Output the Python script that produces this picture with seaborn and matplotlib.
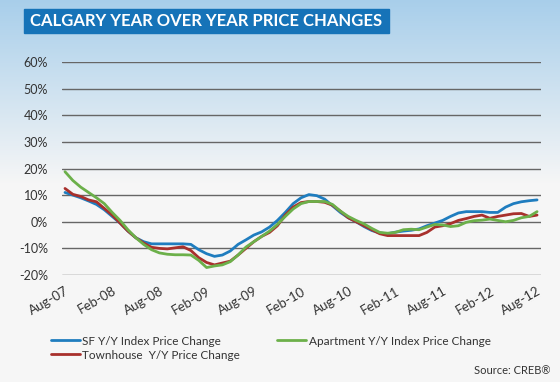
"""
plot.py
Calgary year over year price changes (CREB), Aug-07 to Aug-12.
"""

import numpy as np
import pandas as pd
import matplotlib.pyplot as plt
from matplotlib.patches import Rectangle
import seaborn as sns

sns.set_theme(style="white")
plt.rcParams["font.family"] = ["Lato", "DejaVu Sans"]

# ──────────────────────────────────────────────
# monthly Y/Y change in %, Aug-07 .. Aug-12 (61 months)
months = list(range(61))

sf_change = [
    11.0, 10.0, 9.0, 7.8, 6.5, 4.5, 2.0, -0.5, -3.5, -6.0,
    -7.5, -8.3, -8.3, -8.3, -8.3, -8.3, -8.5, -10.5, -12.0, -13.0,
    -12.5, -11.0, -8.5, -6.8, -5.0, -3.8, -2.0, 0.5, 3.5, 6.8,
    9.0, 10.2, 9.8, 8.5, 6.0, 3.5, 1.5, 0.0, -1.8, -3.3,
    -4.2, -4.5, -3.9, -3.5, -3.2, -2.7, -1.5, -0.5, 0.5, 2.0,
    3.3, 3.8, 3.8, 3.8, 3.5, 3.5, 5.5, 6.8, 7.5, 7.9,
    8.2,
]

apartment_change = [
    18.8, 15.5, 13.0, 11.0, 9.0, 6.8, 3.5, 0.5, -3.0, -6.0,
    -8.5, -10.5, -11.7, -12.2, -12.4, -12.4, -12.5, -14.5, -17.2, -16.6,
    -16.2, -15.0, -12.5, -9.5, -7.5, -5.5, -3.5, -1.0, 2.0, 4.8,
    6.8, 7.6, 7.6, 7.6, 6.5, 4.0, 2.0, 0.5, -0.8, -2.5,
    -4.0, -4.3, -4.0, -3.0, -2.8, -3.0, -2.0, -1.0, -1.2, -1.8,
    -1.5, -0.2, 0.4, 0.6, 1.0, 0.5, 0.0, 0.5, 1.5, 2.0,
    3.8,
]

townhouse_change = [
    12.5, 10.3, 9.5, 8.2, 7.5, 5.0, 2.5, -0.5, -3.5, -6.0,
    -8.0, -9.6, -10.0, -10.2, -9.8, -9.4, -10.8, -13.5, -15.3, -16.2,
    -15.5, -14.8, -12.5, -10.0, -7.5, -5.5, -4.0, -1.5, 2.5, 5.5,
    7.2, 7.6, 7.6, 7.3, 6.2, 4.0, 1.5, 0.0, -1.5, -3.0,
    -4.5, -5.2, -5.2, -5.2, -5.2, -5.2, -4.0, -2.0, -1.5, -0.7,
    0.5, 1.2, 2.0, 2.5, 1.3, 2.0, 2.5, 3.0, 3.1, 2.0,
    2.5,
]

series_names = [
    "SF Y/Y Index Price Change",
    "Townhouse  Y/Y Price Change",
    "Apartment Y/Y Index Price Change",
]

tick_labels = ["Aug-07", "Feb-08", "Aug-08", "Feb-09", "Aug-09", "Feb-10",
               "Aug-10", "Feb-11", "Aug-11", "Feb-12", "Aug-12"]
y_ticks = [-20, -10, 0, 10, 20, 30, 40, 50, 60]

palette = {
    series_names[0]: "#1f7dbf",
    series_names[1]: "#a8302c",
    series_names[2]: "#6cb04a",
}

# ──────────────────────────────────────────────
df = pd.concat([
    pd.DataFrame({"month": months, "change": sf_change, "series": series_names[0]}),
    pd.DataFrame({"month": months, "change": townhouse_change, "series": series_names[1]}),
    pd.DataFrame({"month": months, "change": apartment_change, "series": series_names[2]}),
])

fig = plt.figure(figsize=(5.6, 3.82), dpi=100)

# background gradient: light blue at top fading to off-white
bg = fig.add_axes([0, 0, 1, 1], zorder=0)
top = np.array([0.66, 0.81, 0.92])
bottom = np.array([0.965, 0.965, 0.965])
t = np.clip(np.linspace(0, 1, 382) / 0.48, 0, 1)[:, None]
grad = top * (1 - t) + bottom * t
bg.imshow(grad[:, None, :], aspect="auto", extent=[0, 1, 0, 1])
bg.set_axis_off()

# title bar
fig.add_artist(Rectangle((24 / 560, 1 - 33 / 382), 365 / 560, 24 / 382,
                         transform=fig.transFigure, color="#1673b8", zorder=2))
fig.text(30 / 560, 1 - 21 / 382, "CALGARY YEAR OVER YEAR PRICE CHANGES",
         color="white", fontsize=12, fontweight="bold", va="center", zorder=3)

ax = fig.add_axes([62 / 560, 1 - 275 / 382, 479 / 560, 213 / 382], zorder=1)
ax.patch.set_alpha(0)

sns.lineplot(data=df, x="month", y="change", hue="series", hue_order=series_names,
             palette=palette, linewidth=2, ax=ax)

ax.set_xlim(-0.38, 60.5)
ax.set_ylim(-20, 60)
ax.set_yticks(y_ticks)
ax.set_yticklabels([f"{v}%" for v in y_ticks])
ax.set_xticks(months[::6])
ax.set_xticklabels(tick_labels, rotation=30, ha="right", rotation_mode="anchor")
ax.tick_params(axis="y", length=0, pad=10, labelsize=9, labelcolor="#333333")
ax.tick_params(axis="x", length=0, pad=7, labelsize=9.5, labelcolor="#333333")
ax.set_xlabel("")
ax.set_ylabel("")
for s in ax.spines.values():
    s.set_visible(False)
for v in y_ticks:
    ax.axhline(v, color="#666666", lw=1, zorder=0)

# legend: two columns under the chart
handles, labels = ax.get_legend_handles_labels()
ax.legend_.remove()
fig.legend(handles, labels, ncol=2, loc="upper left",
           bbox_to_anchor=(40 / 560, 1 - 325 / 382), frameon=False,
           fontsize=8.5, handlelength=2.5, handletextpad=0.2, columnspacing=3.1,
           labelspacing=0.25, labelcolor="#333333")

fig.text(551 / 560, 1 - 370 / 382, "Source: CREB\u00ae", ha="right", va="center",
         fontsize=8, color="#333333")

fig.savefig("out.png", dpi=100)
